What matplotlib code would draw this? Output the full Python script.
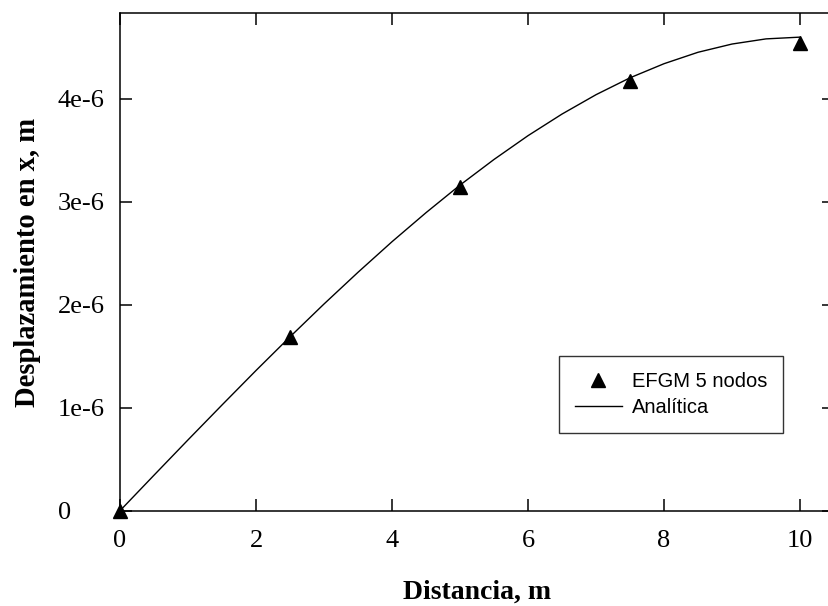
import matplotlib
matplotlib.use("Agg")
import matplotlib.pyplot as plt

# EFGM solution (5 nodes)
efgm_x = [0, 2.5, 5, 7.5, 10]
efgm_u = [0, 1.685e-6, 3.14e-6, 4.17e-6, 4.54e-6]

# analytic curve
anal_x = [0, 0.5, 1, 1.5, 2, 2.5, 3, 3.5, 4, 4.5, 5, 5.5, 6, 6.5, 7, 7.5, 8, 8.5, 9, 9.5, 10]
anal_u = [0, 0.345e-6, 0.688e-6, 1.027e-6, 1.362e-6, 1.689e-6, 2.008e-6, 2.316e-6,
          2.613e-6, 2.895e-6, 3.163e-6, 3.412e-6, 3.643e-6, 3.853e-6, 4.041e-6,
          4.205e-6, 4.342e-6, 4.453e-6, 4.533e-6, 4.583e-6, 4.600e-6]

xticks = [0, 2, 4, 6, 8, 10]
yticks = [0, 1e-6, 2e-6, 3e-6, 4e-6]
ytick_labels = ['0', '1e-6', '2e-6', '3e-6', '4e-6']

fig = plt.figure(figsize=(8.29, 6.06), dpi=100)
ax = fig.add_axes([0.1448, 0.1573, 0.8613, 0.8205])

ax.plot(efgm_x, efgm_u, linestyle='none', marker='^', color='black',
        markersize=9.5, label='EFGM 5 nodos', clip_on=False, zorder=3)
ax.plot(anal_x, anal_u, color='black', linewidth=1.0, label='Analítica')

ax.set_xlim(0, 10.5)
ax.set_ylim(0, 4.83e-6)
ax.set_xticks(xticks)
ax.set_xticklabels([str(t) for t in xticks])
ax.set_yticks(yticks)
ax.set_yticklabels(ytick_labels)

ax.tick_params(direction='in', length=8.5, width=1.1, top=True, right=True,
               labelsize=19)
ax.xaxis.set_tick_params(pad=14)
ax.yaxis.set_tick_params(pad=45)
for lab in ax.get_xticklabels() + ax.get_yticklabels():
    lab.set_family('Liberation Serif')
# y tick labels are left-aligned in the original
for lab in ax.get_yticklabels():
    lab.set_horizontalalignment('left')
for sp in ax.spines.values():
    sp.set_linewidth(1.1)

ax.set_xlabel('Distancia, m', family='Liberation Serif', fontweight='bold', fontsize=20)
ax.set_ylabel('Desplazamiento en x, m', family='Liberation Serif', fontweight='bold', fontsize=20.6)
ax.xaxis.set_label_coords(0.5, -0.138)
ax.yaxis.set_label_coords(-0.111, 0.5)

leg = ax.legend(loc='upper left', bbox_to_anchor=(0.615, 0.311), borderaxespad=0,
                frameon=True, fancybox=False, edgecolor='black',
                prop={'family': 'Liberation Sans', 'size': 14.5},
                handlelength=2.3, handletextpad=0.5, borderpad=0.8, labelspacing=0.33)
leg.get_frame().set_linewidth(1.0)

fig.savefig('out.png', dpi=100)
